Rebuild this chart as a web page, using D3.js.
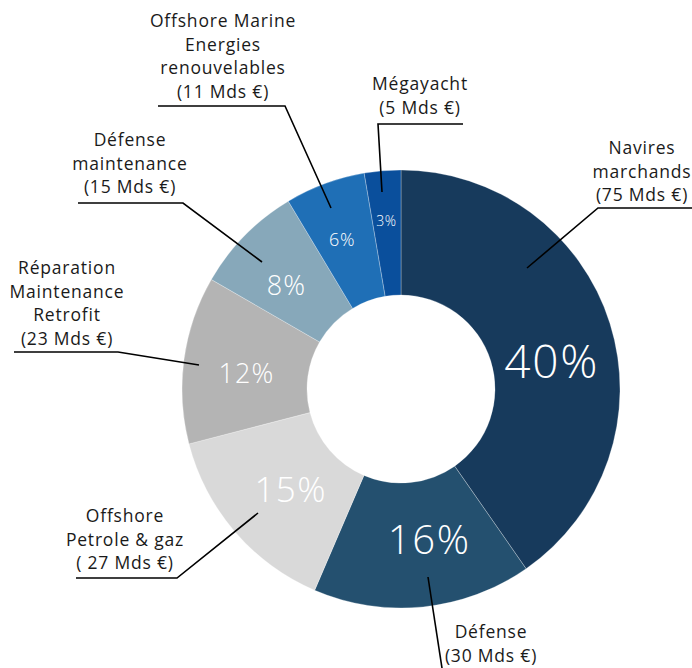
<!DOCTYPE html>
<html><head><meta charset="utf-8">
<script src="https://cdn.jsdelivr.net/npm/d3@7"></script>
<style>
html,body{margin:0;padding:0;background:#fff;}
svg{display:block;}
text{font-family:"Open Sans","Lato",sans-serif;}
</style></head>
<body>
<svg id="chart" width="692" height="668"></svg>
<script>
const categories = ["Navires marchands","Défense","Offshore Petrole & gaz","Réparation Maintenance Retrofit","Défense maintenance","Offshore Marine Energies renouvelables","Mégayacht"];
const values = [75, 30, 27, 23, 15, 11, 5];
const labelLines = [
  ["Navires","marchands","(75 Mds €)"],
  ["Défense","(30 Mds €)"],
  ["Offshore","Petrole & gaz","( 27 Mds €)"],
  ["Réparation","Maintenance","Retrofit","(23 Mds €)"],
  ["Défense","maintenance","(15 Mds €)"],
  ["Offshore Marine","Energies","renouvelables","(11 Mds €)"],
  ["Mégayacht","(5 Mds €)"]
];
const colors = ["#173a5c","#24506f","#d9d9d9","#b4b4b4","#87a8ba","#1f6fb6","#0a4f9c"];
const pctSizes = [46, 40, 35, 27, 27, 18, 14];
const pctRadius = [158, 150, 156, 156, 158, 152, 172];
const pctOffsets = [[0,18],[13,0],[8,-2],[0,5],[-2,6],[-6,-7],[0,3]];

const callouts = [
  {anchor:[527,268], elbow:[598,208], end:[692,208], text:[642,148]},
  {anchor:[428,577], elbow:[442,668], end:[442,668], text:[491,632]},
  {anchor:[258,513], elbow:[177,578], end:[76,578], text:[125,516]},
  {anchor:[199,365], elbow:[118,352], end:[14,352], text:[67,268]},
  {anchor:[262,262], elbow:[183,203], end:[78,203], text:[130,140]},
  {anchor:[331,208], elbow:[285,106], end:[158,106], text:[223,21]},
  {anchor:[382,192], elbow:[378,124], end:[463,124], text:[420,84]}
];

const svg = d3.select("#chart");
const cx = 401, cy = 389, outerR = 219, innerR = 94;
const g = svg.append("g").attr("transform", `translate(${cx},${cy})`);

const pie = d3.pie().value(d => d).sort(null);
const arcs = pie(values);
const arc = d3.arc().innerRadius(innerR).outerRadius(outerR);
const total = d3.sum(values);
const fmt = d3.format(".0%");

g.selectAll("path.slice").data(arcs).join("path")
  .attr("class","slice")
  .attr("d", arc)
  .attr("fill", (d,i) => colors[i])
  .attr("stroke", "rgba(255,255,255,0.35)")
  .attr("stroke-width", 0.8);

g.selectAll("text.pct").data(arcs).join("text")
  .attr("class","pct")
  .attr("transform", (d,i) => {
    const c = d3.arc().innerRadius(pctRadius[i]).outerRadius(pctRadius[i]).centroid(d);
    return `translate(${c[0]+pctOffsets[i][0]},${c[1]+pctOffsets[i][1]})`;
  })
  .attr("text-anchor","middle")
  .attr("dominant-baseline","central")
  .attr("fill","#fff")
  .attr("font-weight", 300)
  .attr("letter-spacing", (d,i) => pctSizes[i] * 0.04)
  .attr("font-size", (d,i) => pctSizes[i])
  .text(d => fmt(d.value / total));

const lineGen = d3.line();
svg.selectAll("path.callout").data(callouts).join("path")
  .attr("class","callout")
  .attr("d", d => lineGen([d.anchor, d.elbow, d.end]))
  .attr("fill","none")
  .attr("stroke","#000")
  .attr("stroke-width",1.6);

svg.selectAll("text.lab").data(callouts).join("text")
  .attr("class","lab")
  .attr("x", d => d.text[0])
  .attr("y", d => d.text[1])
  .attr("text-anchor", "middle")
  .attr("font-size", 17.5)
  .attr("letter-spacing", 0.8)
  .attr("fill","#1a1a1a")
  .each(function(d,i){
    const t = d3.select(this);
    labelLines[i].forEach((ln,j) => {
      t.append("tspan").attr("x", d.text[0]).attr("dy", j===0 ? "0.35em" : 23.5).text(ln);
    });
  });
</script>
</body></html>
